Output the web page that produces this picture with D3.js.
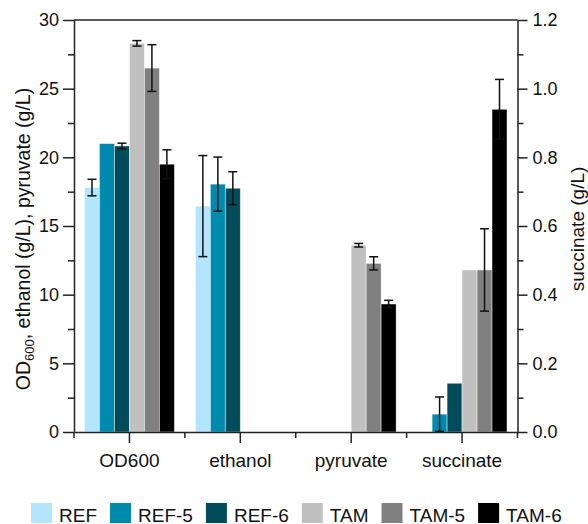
<!DOCTYPE html>
<meta charset="utf-8">

<style type="text/css">

  body {
  	margin: 0;
  	background: #fff;
  }

  svg text {
  	font-family: "Liberation Sans", Arial, sans-serif;
  	fill: #111;
  }

  .axis path, .axis line {
  	stroke: #222;
  	stroke-width: 1.5px;
  }

  .errbar line {
  	stroke: #111;
  	stroke-width: 1.5px;
  }

</style>

<body>
</body>

<script src="https://d3js.org/d3.v7.min.js"></script>

<script>

// data
var categories = ["OD600", "ethanol", "pyruvate", "succinate"];
var series = ["REF", "REF-5", "REF-6", "TAM", "TAM-5", "TAM-6"];
var colors = ["#B3E5FC", "#008BAE", "#004C5A", "#C0C0C0", "#808080", "#000000"];

// one value per category, succinate is on the right axis (g/L)
var valREF  = [17.8, 16.45, 0, 0];
var valREF5 = [21.0, 18.05, 0, 0.052];
var valREF6 = [20.83, 17.75, 0, 0.142];
var valTAM  = [28.3, 0, 13.6, 0.472];
var valTAM5 = [26.5, 0, 12.28, 0.472];
var valTAM6 = [19.5, 0, 9.32, 0.94];

var errREF  = [0.6, 3.68, 0, 0];
var errREF5 = [0, 1.97, 0, 0.05];
var errREF6 = [0.2, 1.2, 0, 0];
var errTAM  = [0.2, 0, 0.13, 0];
var errTAM5 = [1.7, 0, 0.48, 0.12];
var errTAM6 = [1.05, 0, 0.27, 0.087];

var leftTicks = [0, 5, 10, 15, 20, 25, 30];
var rightTicks = [0, 0.2, 0.4, 0.6, 0.8, 1.0, 1.2];
var rightCategory = "succinate";

var values = [valREF, valREF5, valREF6, valTAM, valTAM5, valTAM6];
var errors = [errREF, errREF5, errREF6, errTAM, errTAM5, errTAM6];

var rows = [];
categories.forEach(function(c, ci) {
	series.forEach(function(s, si) {
		rows.push({cat: c, ser: s, color: colors[si], v: values[si][ci], e: errors[si][ci]});
	});
});

var W = 588, H = 524;
var m = {left: 74, right: 517.5, top: 20, bottom: 432};

var svg = d3.select("body").append("svg")
	.attr("width", W)
	.attr("height", H);

var xscale = d3.scaleBand()
	.domain(categories)
	.range([m.left, m.right]);

var inner = d3.scaleBand()
	.domain(series)
	.range([10.5, xscale.bandwidth() - 10.5]);

var yL = d3.scaleLinear().domain([0, 30]).range([m.bottom, m.top]);
var yR = d3.scaleLinear().domain([0, 1.2]).range([m.bottom, m.top]);

function yFor(d) {
	return d.cat == rightCategory ? yR : yL;
}

// bars
svg.append("g").selectAll("rect")
	.data(rows.filter(function(d) { return d.v > 0; }))
	.enter().append("rect")
	.attr("x", function(d) { return xscale(d.cat) + inner(d.ser); })
	.attr("y", function(d) { return yFor(d)(d.v); })
	.attr("width", inner.bandwidth())
	.attr("height", function(d) { return m.bottom - yFor(d)(d.v); })
	.attr("fill", function(d) { return d.color; })
	.attr("stroke", "#fff")
	.attr("stroke-opacity", 0.55)
	.attr("stroke-width", 0.8);

// error bars
var eb = svg.append("g").attr("class", "errbar").selectAll("g")
	.data(rows.filter(function(d) { return d.v > 0 && d.e > 0; }))
	.enter().append("g")
	.attr("transform", function(d) {
		return "translate(" + (xscale(d.cat) + inner(d.ser) + inner.bandwidth() / 2) + ",0)";
	});

eb.append("line")
	.attr("y1", function(d) { return yFor(d)(d.v + d.e); })
	.attr("y2", function(d) { return yFor(d)(Math.max(0, d.v - d.e)); });
eb.append("line")
	.attr("x1", -4.5).attr("x2", 4.5)
	.attr("y1", function(d) { return yFor(d)(d.v + d.e); })
	.attr("y2", function(d) { return yFor(d)(d.v + d.e); });
eb.append("line")
	.attr("x1", -4.5).attr("x2", 4.5)
	.attr("y1", function(d) { return yFor(d)(Math.max(0, d.v - d.e)); })
	.attr("y2", function(d) { return yFor(d)(Math.max(0, d.v - d.e)); });

// frame top
svg.append("line")
	.attr("x1", m.left).attr("x2", m.right)
	.attr("y1", m.top).attr("y2", m.top)
	.attr("stroke", "#222").attr("stroke-width", 1.5);

// left axis, minor then major
svg.append("g")
	.attr("class", "axis")
	.attr("transform", "translate(" + m.left + ",0)")
	.call(d3.axisLeft(yL).tickValues(d3.range(2.5, 30, 5)).tickSize(6).tickFormat(""))
	.call(function(g) { g.select(".domain").remove(); });

svg.append("g")
	.attr("class", "axis")
	.attr("transform", "translate(" + m.left + ",0)")
	.call(d3.axisLeft(yL).tickValues(leftTicks).tickSize(11).tickSizeOuter(0).tickPadding(4))
	.selectAll("text").style("font-size", "18px");

// right axis
svg.append("g")
	.attr("class", "axis")
	.attr("transform", "translate(" + m.right + ",0)")
	.call(d3.axisRight(yR).tickValues(d3.range(0.1, 1.2, 0.2)).tickSize(6).tickFormat(""))
	.call(function(g) { g.select(".domain").remove(); });

svg.append("g")
	.attr("class", "axis")
	.attr("transform", "translate(" + m.right + ",0)")
	.call(d3.axisRight(yR).tickValues(rightTicks).tickSize(10).tickSizeOuter(0).tickPadding(5).tickFormat(d3.format(".1f")))
	.selectAll("text").style("font-size", "18px");

// bottom axis: minor ticks at band edges, major at centres
var edges = categories.map(function(c) { return xscale(c); }).concat([m.right]);
svg.append("g")
	.attr("class", "axis")
	.selectAll("line")
	.data(edges)
	.enter().append("line")
	.attr("x1", function(d) { return d; }).attr("x2", function(d) { return d; })
	.attr("y1", m.bottom).attr("y2", m.bottom + 6);

svg.append("g")
	.attr("class", "axis")
	.attr("transform", "translate(0," + m.bottom + ")")
	.call(d3.axisBottom(xscale).tickSize(11).tickSizeOuter(0).tickPadding(11))
	.selectAll("text").style("font-size", "19px");

// axis titles
var lt = svg.append("text")
	.attr("transform", "translate(30,239) rotate(-90)")
	.attr("text-anchor", "middle")
	.style("font-size", "19.5px");
lt.append("tspan").text("OD");
lt.append("tspan").text("600").style("font-size", "13px").attr("dy", 4);
lt.append("tspan").text(", ethanol (g/L), pyruvate (g/L)").attr("dy", -4);

svg.append("text")
	.attr("transform", "translate(584,229) rotate(-90)")
	.attr("text-anchor", "middle")
	.style("font-size", "19px")
	.text("succinate (g/L)");

// legend
var lg = svg.append("g").attr("class", "legend");
var lx = 31;
series.forEach(function(s, i) {
	lg.append("rect")
		.attr("x", lx).attr("y", 503)
		.attr("width", 21).attr("height", 20)
		.attr("fill", colors[i]);
	var t = lg.append("text")
		.attr("x", lx + 28).attr("y", 521.5)
		.style("font-size", "19px")
		.text(s);
	lx = lx + 28 + t.node().getComputedTextLength() + 13;
});

</script>
